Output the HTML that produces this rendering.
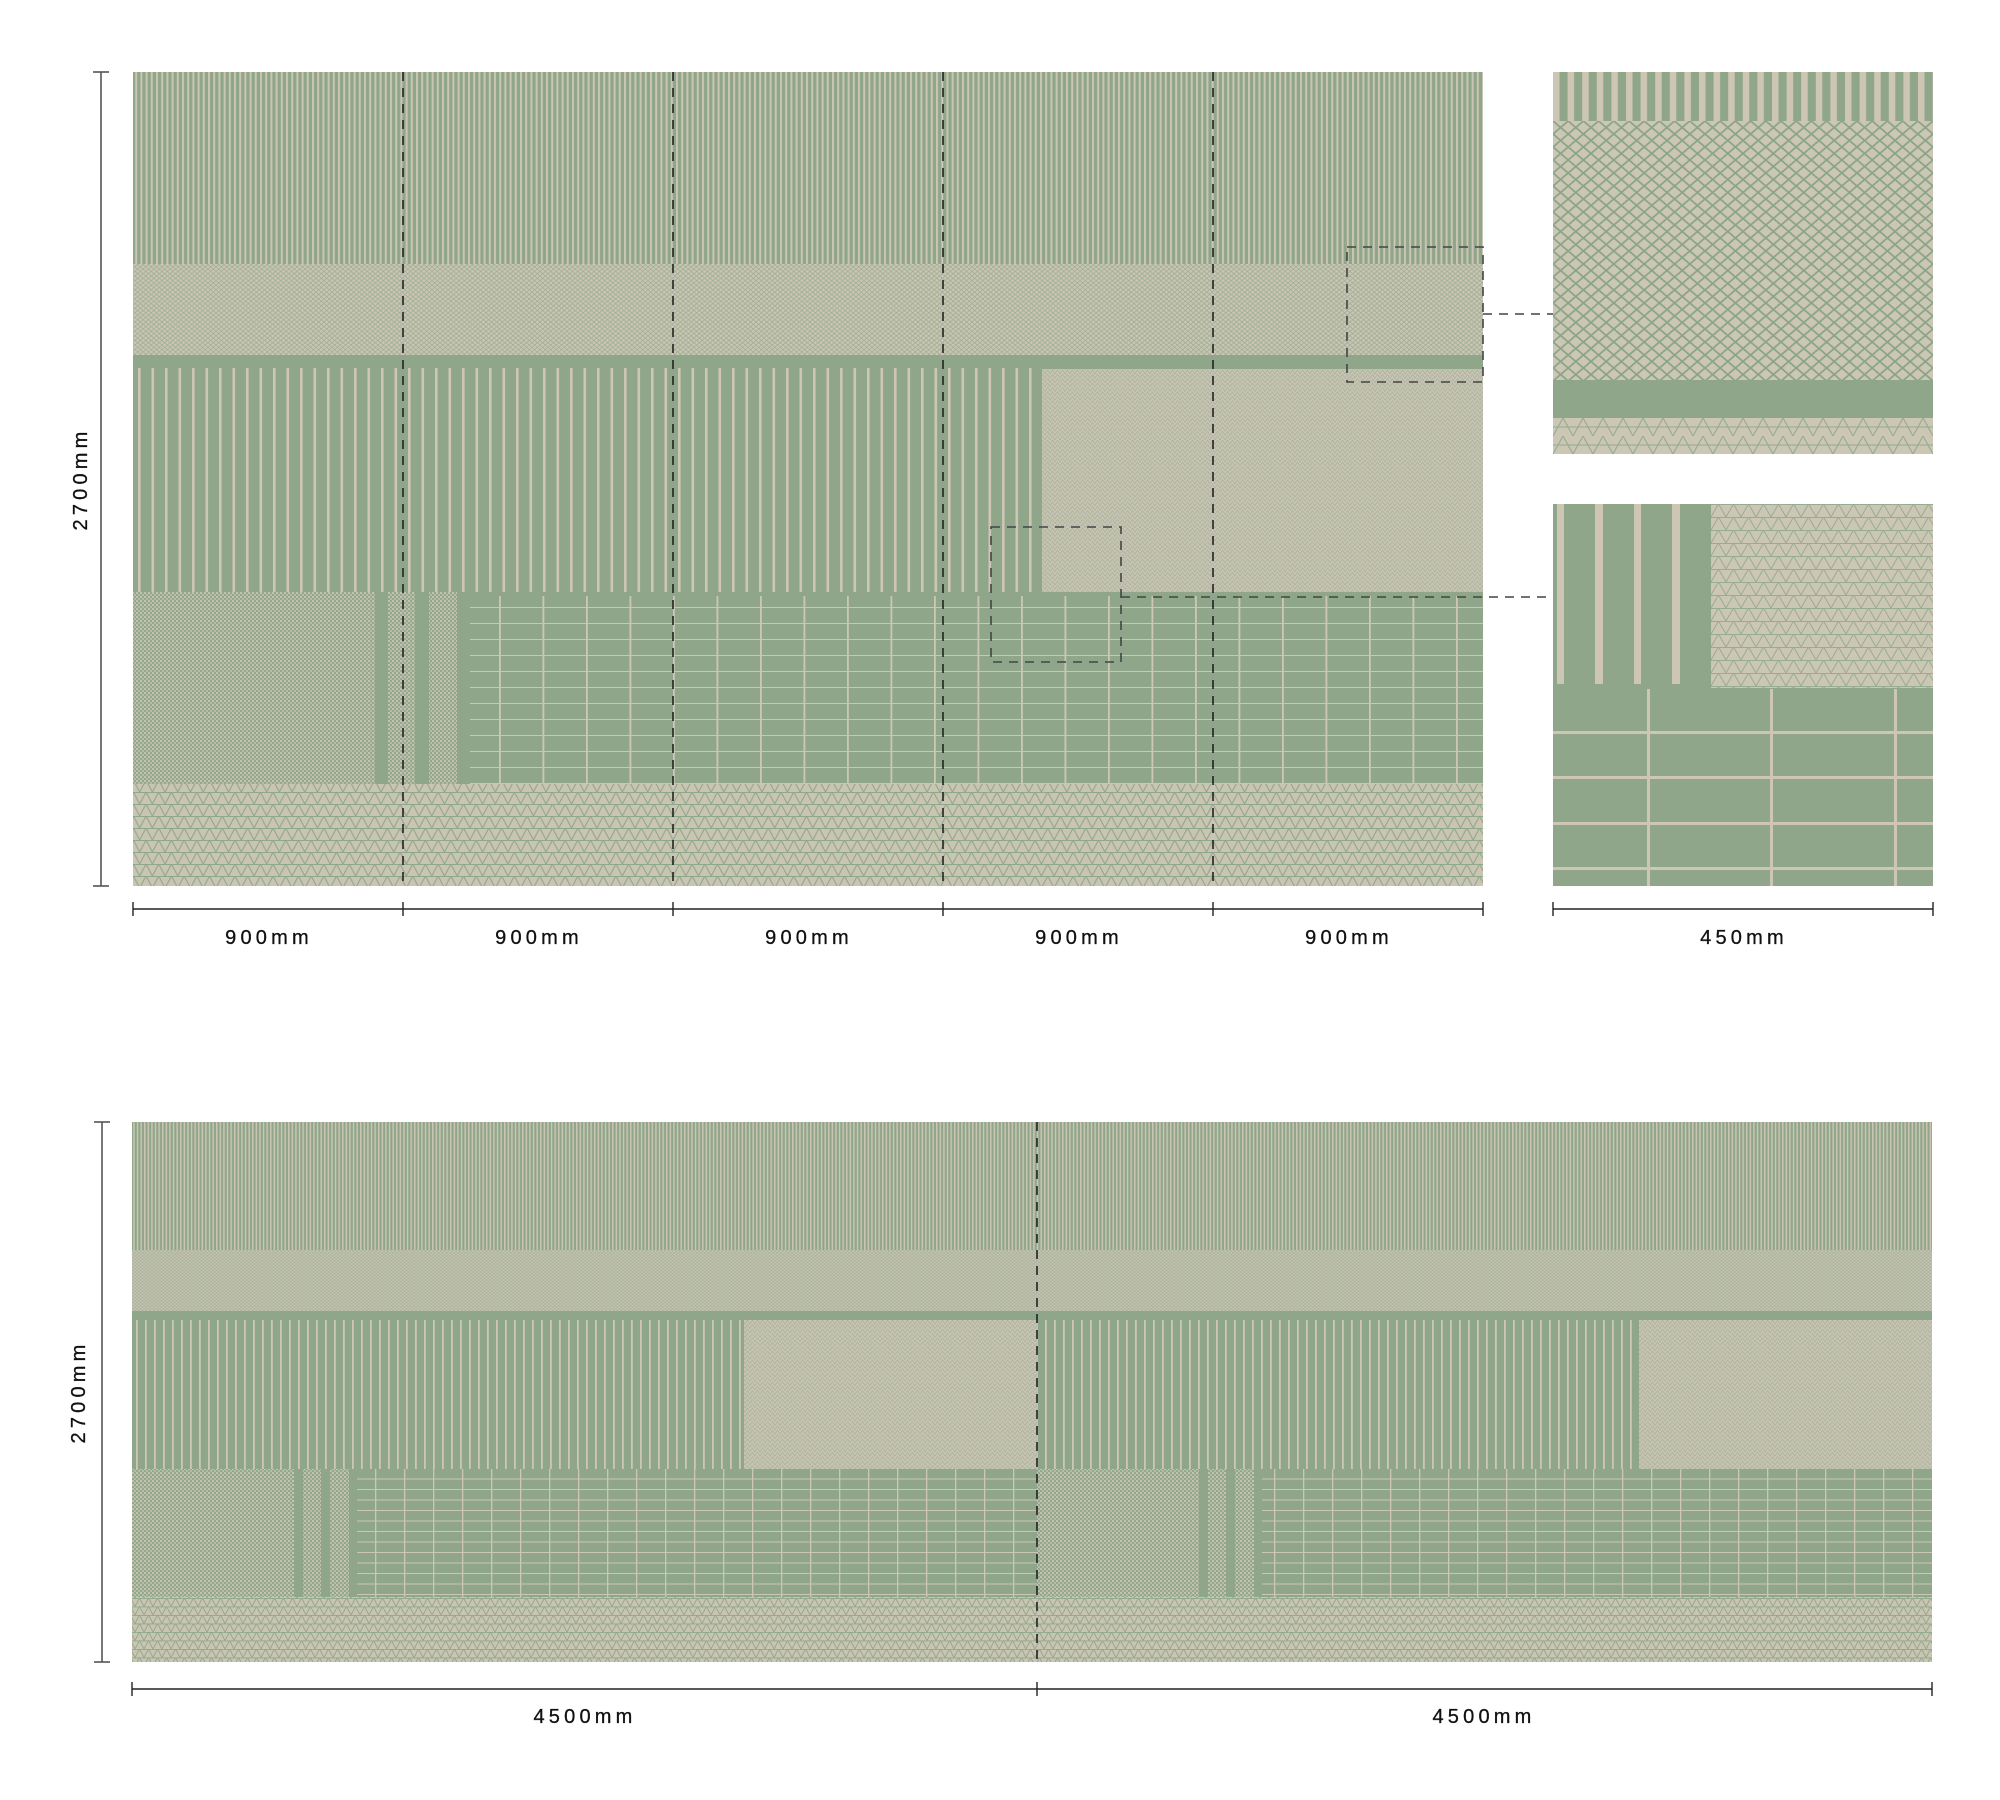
<!DOCTYPE html>
<html><head><meta charset="utf-8"><style>html,body{margin:0;padding:0;background:#fff}svg{display:block}text{font-family:"Liberation Sans",sans-serif;font-size:20px;letter-spacing:4.2px;fill:#111;stroke:#111;stroke-width:0.3}</style></head><body>
<svg width="2000" height="1800" viewBox="0 0 2000 1800" xmlns="http://www.w3.org/2000/svg">
<defs>
<pattern id="fs1" width="5.2" height="10" patternUnits="userSpaceOnUse"><rect width="5.2" height="10" fill="#8fa68a"/><rect width="2" height="10" fill="#cbc5b3"/></pattern>
<pattern id="xh1" width="5.4" height="4.6" patternUnits="userSpaceOnUse"><rect width="5.4" height="4.6" fill="#cbc5b3"/><path d="M0 0L5.4 4.6M5.4 0L0 4.6" stroke="#98ad93" stroke-width="0.7"/></pattern>
<pattern id="ps1" x="133" width="13.5" height="10" patternUnits="userSpaceOnUse"><rect width="13.5" height="10" fill="#8fa68a"/><rect x="5" width="2.6" height="10" fill="#cdc6b4"/></pattern>
<pattern id="dot1" width="4" height="4" patternUnits="userSpaceOnUse"><rect width="4" height="4" fill="#93a98d"/><rect width="2" height="2" fill="#c6c2ae"/><rect x="2" y="2" width="2" height="2" fill="#b8bca6"/></pattern>
<pattern id="tb1" width="5" height="4.4" patternUnits="userSpaceOnUse"><rect width="5" height="4.4" fill="#c9c4b2"/><path d="M0 4.4L2.5 0L5 4.4" stroke="#a3b19c" stroke-width="0.7" fill="none"/></pattern>
<pattern id="tri1" width="12.7" height="12" patternUnits="userSpaceOnUse"><rect width="12.7" height="12" fill="#cac4b2"/><path d="M0 12L6.35 0L12.7 12M0 0.5H12.7" stroke="#8fa88b" stroke-width="1.1" fill="none"/></pattern>
<pattern id="grid1" x="1021" y="592" width="43.5" height="16" patternUnits="userSpaceOnUse"><rect width="43.5" height="16" fill="#8fa68a"/><rect x="0" width="1.8" height="16" fill="#cdc6b4"/><rect y="15" width="43.5" height="1.8" fill="#cdc6b4"/></pattern>
<pattern id="fs2" width="3.6" height="10" patternUnits="userSpaceOnUse"><rect width="3.6" height="10" fill="#8fa68a"/><rect width="1.5" height="10" fill="#cbc5b3"/></pattern>
<pattern id="xh2" width="3.8" height="3.2" patternUnits="userSpaceOnUse"><rect width="3.8" height="3.2" fill="#c9c4b1"/><path d="M0 0L3.8 3.2M3.8 0L0 3.2" stroke="#9daf97" stroke-width="0.55"/></pattern>
<pattern id="ps2" x="132" width="9" height="10" patternUnits="userSpaceOnUse"><rect width="9" height="10" fill="#8fa68a"/><rect x="4" width="1.8" height="10" fill="#cdc6b4"/></pattern>
<pattern id="tri2" width="9" height="8.5" patternUnits="userSpaceOnUse"><rect width="9" height="8.5" fill="#cac4b2"/><path d="M0 8.5L4.5 0L9 8.5M0 0.4H9" stroke="#8fa88b" stroke-width="0.9" fill="none"/></pattern>
<pattern id="grid2" x="346" y="1469" width="29" height="10.5" patternUnits="userSpaceOnUse"><rect width="29" height="10.5" fill="#8fa68a"/><rect width="1.3" height="10.5" fill="#cdc6b4"/><rect y="9.5" width="29" height="1.3" fill="#cdc6b4"/></pattern>
<pattern id="fs3" x="1553" width="14.6" height="10" patternUnits="userSpaceOnUse"><rect width="14.6" height="10" fill="#8fa68a"/><rect width="6.5" height="10" fill="#cdc6b4"/></pattern>
<pattern id="xh3" x="1553" y="121" width="15.2" height="13" patternUnits="userSpaceOnUse"><rect width="15.2" height="13" fill="#ccc6b4"/><path d="M0 0L15.2 13M15.2 0L0 13" stroke="#8aa586" stroke-width="1.8"/></pattern>
<pattern id="tri3" x="1553" y="418" width="20" height="18" patternUnits="userSpaceOnUse"><rect width="20" height="18" fill="#ccc6b4"/><path d="M0 18L10 0L20 18M0 9H20" stroke="#95ab90" stroke-width="1.1" fill="none"/></pattern>
<pattern id="tri4" x="1711" y="504" width="15" height="13" patternUnits="userSpaceOnUse"><rect width="15" height="13" fill="#ccc6b4"/><path d="M0 13L7.5 0L15 13M0 0.5H15" stroke="#97ad93" stroke-width="1" fill="none"/></pattern>
</defs>

<rect x="133" y="72" width="1350" height="192" fill="url(#fs1)"/>
<rect x="133" y="264" width="1350" height="91" fill="url(#xh1)"/>
<rect x="133" y="355" width="1350" height="237" fill="#8fa68a"/>
<rect x="133" y="368" width="909" height="224" fill="url(#ps1)"/>
<rect x="1042" y="369" width="441" height="223" fill="url(#tb1)"/>
<rect x="133" y="592" width="1350" height="192" fill="url(#dot1)"/>
<rect x="375" y="592" width="13" height="192" fill="#8fa68a"/>
<rect x="415" y="592" width="14" height="192" fill="#8fa68a"/>
<rect x="457" y="592" width="1026" height="192" fill="#8fa68a"/>
<rect x="470" y="596" width="1013" height="188" fill="url(#grid1)"/>
<rect x="133" y="784" width="1350" height="102" fill="url(#tri1)"/>
<g stroke="#222" stroke-width="1.6" stroke-dasharray="9,7">
<line x1="403" y1="72" x2="403" y2="886"/><line x1="673" y1="72" x2="673" y2="886"/><line x1="943" y1="72" x2="943" y2="886"/><line x1="1213" y1="72" x2="1213" y2="886"/>
</g>
<g stroke="#444" stroke-width="1.6" stroke-dasharray="9,7" fill="none">
<rect x="1347" y="247" width="136" height="135"/><rect x="991" y="527" width="130" height="135"/>
<line x1="1483" y1="314" x2="1553" y2="314"/><line x1="1121" y1="597" x2="1553" y2="597"/>
</g>

<rect x="1553" y="72" width="380" height="49" fill="url(#fs3)"/>
<rect x="1553" y="121" width="380" height="259" fill="url(#xh3)"/>
<rect x="1553" y="380" width="380" height="38" fill="#8fa68a"/>
<rect x="1553" y="418" width="380" height="36" fill="url(#tri3)"/>

<rect x="1553" y="504" width="380" height="382" fill="#8fa68a"/>
<rect x="1711" y="504" width="222" height="184" fill="url(#tri4)"/>
<g fill="#cdc6b4">
<rect x="1557" y="504" width="7" height="180"/><rect x="1595" y="504" width="8" height="180"/><rect x="1634" y="504" width="7" height="180"/><rect x="1672" y="504" width="8" height="180"/>
<rect x="1647" y="689" width="3" height="197"/><rect x="1770" y="689" width="3" height="197"/><rect x="1894" y="689" width="3" height="197"/>
<rect x="1553" y="731" width="380" height="3"/><rect x="1553" y="776" width="380" height="3"/><rect x="1553" y="822" width="380" height="3"/><rect x="1553" y="867" width="380" height="3"/>
</g>

<g stroke="#555" stroke-width="1.6" fill="none">
<line x1="101" y1="72" x2="101" y2="886"/><line x1="93" y1="72" x2="109" y2="72"/><line x1="93" y1="886" x2="109" y2="886"/>
</g>
<g stroke="#222" stroke-width="1.4">
<line x1="133" y1="909" x2="1483" y2="909"/>
<line x1="133" y1="902" x2="133" y2="916"/><line x1="403" y1="902" x2="403" y2="916"/><line x1="673" y1="902" x2="673" y2="916"/><line x1="943" y1="902" x2="943" y2="916"/><line x1="1213" y1="902" x2="1213" y2="916"/><line x1="1483" y1="902" x2="1483" y2="916"/>
<line x1="1553" y1="909" x2="1933" y2="909"/><line x1="1553" y1="902" x2="1553" y2="916"/><line x1="1933" y1="902" x2="1933" y2="916"/>
</g>
<g text-anchor="middle">
<text x="269" y="944">900mm</text><text x="539" y="944">900mm</text><text x="809" y="944">900mm</text><text x="1079" y="944">900mm</text><text x="1349" y="944">900mm</text><text x="1744" y="944">450mm</text>
<text transform="translate(87,479) rotate(-90)">2700mm</text>
</g>

<rect x="132" y="1122" width="1800" height="128" fill="url(#fs2)"/>
<rect x="132" y="1250" width="1800" height="61" fill="url(#xh2)"/>
<rect x="132" y="1311" width="1800" height="158" fill="#8fa68a"/>
<rect x="132" y="1320" width="612" height="149" fill="url(#ps2)"/>
<rect x="744" y="1320" width="293" height="149" fill="url(#tb1)"/>
<rect x="1037" y="1320" width="602" height="149" fill="url(#ps2)"/>
<rect x="1639" y="1320" width="293" height="149" fill="url(#tb1)"/>
<rect x="132" y="1469" width="1800" height="128" fill="url(#dot1)"/>
<g fill="#8fa68a">
<rect x="294" y="1469" width="9" height="128"/><rect x="321" y="1469" width="9" height="128"/><rect x="349" y="1469" width="688" height="128"/>
<rect x="1199" y="1469" width="9" height="128"/><rect x="1226" y="1469" width="9" height="128"/><rect x="1254" y="1469" width="678" height="128"/>
</g>
<rect x="357" y="1469" width="680" height="128" fill="url(#grid2)"/>
<rect x="1262" y="1469" width="670" height="128" fill="url(#grid2)"/>
<rect x="132" y="1597" width="1800" height="65" fill="url(#tri2)"/>
<line x1="1037" y1="1122" x2="1037" y2="1662" stroke="#222" stroke-width="1.6" stroke-dasharray="9,7"/>

<g stroke="#555" stroke-width="1.6" fill="none">
<line x1="102" y1="1122" x2="102" y2="1662"/><line x1="94" y1="1122" x2="110" y2="1122"/><line x1="94" y1="1662" x2="110" y2="1662"/>
</g>
<g stroke="#222" stroke-width="1.4">
<line x1="132" y1="1689" x2="1932" y2="1689"/>
<line x1="132" y1="1682" x2="132" y2="1696"/><line x1="1037" y1="1682" x2="1037" y2="1696"/><line x1="1932" y1="1682" x2="1932" y2="1696"/>
</g>
<g text-anchor="middle">
<text x="585" y="1723">4500mm</text><text x="1484" y="1723">4500mm</text>
<text transform="translate(85,1392) rotate(-90)">2700mm</text>
</g>
</svg>
</body></html>
